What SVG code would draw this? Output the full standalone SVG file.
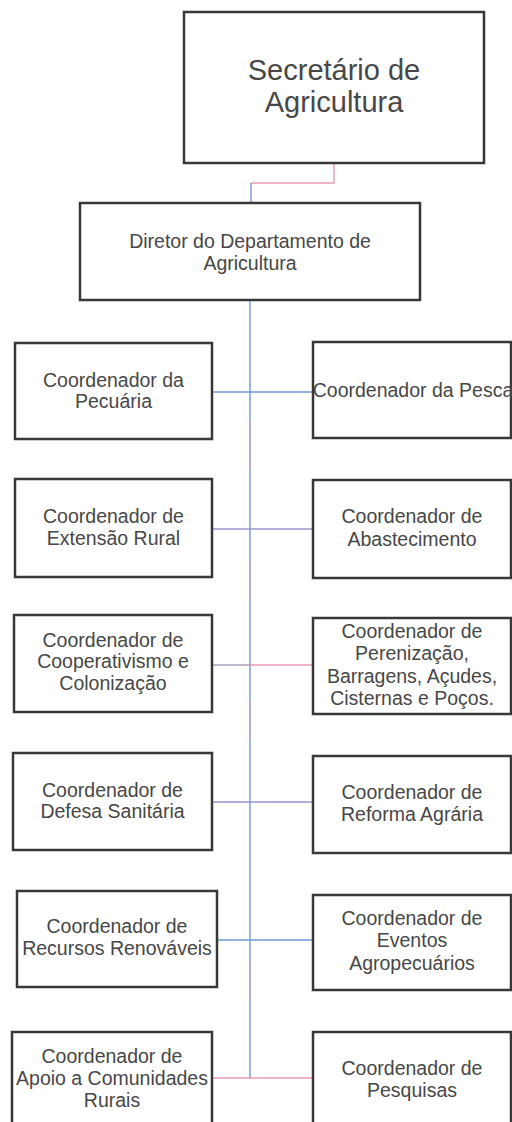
<svg xmlns="http://www.w3.org/2000/svg" width="512" height="1122" viewBox="0 0 512 1122">
<style>
.box{fill:#ffffff;stroke:#383838;stroke-width:2.5}
.t{font-family:"Liberation Sans",Arial,sans-serif;font-size:19.5px;fill:#474747;text-anchor:middle}
.big{font-size:29px}
.c{fill:none;stroke-width:1.4}
.blue{stroke:#6f9bd8}
.pink{stroke:#e99ab8}
.purple{stroke:#9a92cc}
.grey{stroke:#a8a2b8}
</style>
<rect width="512" height="1122" fill="#ffffff"/>
<g id="connectors">
<path class="c pink" d="M334,163 V183 H251"/>
<path class="c blue" d="M251,183 V203"/>
<path class="c blue" d="M250,300 V1078"/>
<path class="c pink" d="M250,420 V470 M250,560 V600 M250,700 V740 M250,960 V1000" opacity="0.5"/>
<path class="c blue" d="M212,392 H313"/>
<path class="c purple" d="M212,529 H313"/>
<path class="c grey" d="M212,665 H250"/>
<path class="c pink" d="M250,665 H313"/>
<path class="c purple" d="M212,802 H313"/>
<path class="c blue" d="M217,940 H313"/>
<path class="c pink" d="M212,1078 H313"/>
</g>
<g id="secretario">
<rect class="box" x="184" y="12" width="300" height="151"/>
<text class="t big" x="334" y="80">Secretário de</text>
<text class="t big" x="334" y="112">Agricultura</text>
</g>
<g id="diretor">
<rect class="box" x="80" y="203" width="340" height="97"/>
<text class="t" x="250" y="248">Diretor do Departamento de</text>
<text class="t" x="250" y="270">Agricultura</text>
</g>
<g id="pecuaria">
<rect class="box" x="15" y="343" width="197" height="96"/>
<text class="t" x="113.5" y="387">Coordenador da</text>
<text class="t" x="113.5" y="408">Pecuária</text>
</g>
<g id="pesca">
<rect class="box" x="313" y="342" width="198" height="96"/>
<text class="t" x="413" y="397">Coordenador da Pesca</text>
</g>
<g id="extensao">
<rect class="box" x="15" y="479" width="197" height="98"/>
<text class="t" x="113.5" y="523">Coordenador de</text>
<text class="t" x="113.5" y="545">Extensão Rural</text>
</g>
<g id="abastecimento">
<rect class="box" x="313" y="480" width="198" height="98"/>
<text class="t" x="412" y="523">Coordenador de</text>
<text class="t" x="412" y="546">Abastecimento</text>
</g>
<g id="cooperativismo">
<rect class="box" x="14" y="615" width="198" height="97"/>
<text class="t" x="113" y="647">Coordenador de</text>
<text class="t" x="113" y="668">Cooperativismo e</text>
<text class="t" x="113" y="690">Colonização</text>
</g>
<g id="perenizacao">
<rect class="box" x="313" y="618" width="198" height="96"/>
<text class="t" x="412" y="638">Coordenador de</text>
<text class="t" x="412" y="660">Perenização,</text>
<text class="t" x="412" y="683">Barragens, Açudes,</text>
<text class="t" x="412" y="705">Cisternas e Poços.</text>
</g>
<g id="defesa">
<rect class="box" x="13" y="753" width="199" height="97"/>
<text class="t" x="112.5" y="797">Coordenador de</text>
<text class="t" x="112.5" y="818">Defesa Sanitária</text>
</g>
<g id="reforma">
<rect class="box" x="313" y="756" width="198" height="97"/>
<text class="t" x="412" y="799">Coordenador de</text>
<text class="t" x="412" y="821">Reforma Agrária</text>
</g>
<g id="recursos">
<rect class="box" x="17" y="891" width="200" height="96"/>
<text class="t" x="117" y="933">Coordenador de</text>
<text class="t" x="117" y="955">Recursos Renováveis</text>
</g>
<g id="eventos">
<rect class="box" x="313" y="895" width="198" height="95"/>
<text class="t" x="412" y="925">Coordenador de</text>
<text class="t" x="412" y="947">Eventos</text>
<text class="t" x="412" y="970">Agropecuários</text>
</g>
<g id="apoio">
<rect class="box" x="12" y="1032" width="200" height="100"/>
<text class="t" x="112" y="1063">Coordenador de</text>
<text class="t" x="112" y="1085">Apoio a Comunidades</text>
<text class="t" x="112" y="1107">Rurais</text>
</g>
<g id="pesquisas">
<rect class="box" x="313" y="1032" width="198" height="100"/>
<text class="t" x="412" y="1075">Coordenador de</text>
<text class="t" x="412" y="1097">Pesquisas</text>
</g>
</svg>
